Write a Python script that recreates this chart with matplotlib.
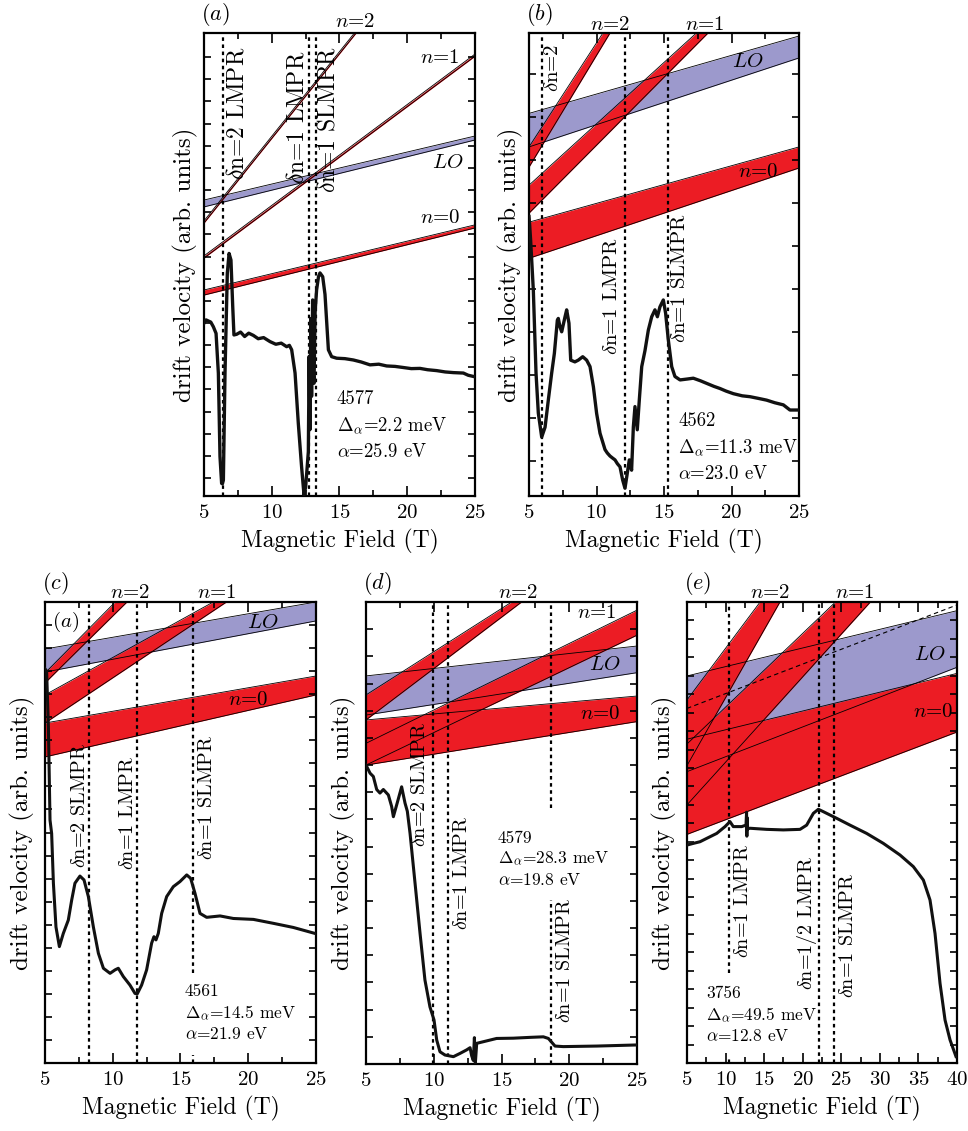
import numpy as np
import matplotlib.pyplot as plt
from matplotlib.ticker import MultipleLocator

plt.rcParams['font.family'] = ['cmr10', 'DejaVu Serif']
plt.rcParams['mathtext.fontset'] = 'cm'
plt.rcParams['axes.formatter.use_mathtext'] = True

RED = '#ec1c24'
PURPLE = '#9c99cc'

# ---- panel (a): sample 4577 ----
a_trace = [(5.0, 7.8), (5.15, 7.95), (5.32, 7.9), (5.5, 7.85), (5.69, 7.64), (5.89, 7.34),
           (6.06, 5.54), (6.18, 1.78), (6.3, 0.57), (6.36, 0.55), (6.43, 0.72), (6.55, 5.54),
           (6.72, 10.05), (6.85, 10.95), (6.99, 10.65), (7.12, 8.55), (7.21, 7.27), (7.41, 7.3),
           (7.7, 7.4), (8.0, 7.2), (8.3, 7.35), (8.64, 7.25), (9.0, 7.1), (9.4, 7.15),
           (9.87, 6.97), (10.3, 6.85), (10.7, 6.9), (11.1, 6.74), (11.3, 6.8), (11.47, 6.6),
           (11.72, 5.55), (11.96, 3.28), (12.2, 1.33), (12.38, 0.05), (12.5, 0.4), (12.58, 1.03),
           (12.7, 2.0), (12.76, 6.3), (12.82, 3.0), (12.88, 8.0), (12.94, 4.5), (13.02, 8.85),
           (13.07, 5.5), (13.12, 5.09), (13.2, 8.3), (13.31, 9.3), (13.45, 9.9), (13.56, 10.07),
           (13.76, 9.9), (13.93, 9.1), (14.18, 6.6), (14.42, 6.29), (14.79, 6.22), (15.4, 6.2),
           (16.02, 6.14), (16.6, 6.05), (17.25, 5.92), (17.9, 5.95), (18.48, 5.87), (19.1, 5.85),
           (19.71, 5.8), (20.3, 5.75), (20.94, 5.76), (21.5, 5.7), (22.17, 5.66), (22.8, 5.6),
           (23.4, 5.57), (24.14, 5.55), (24.5, 5.45), (24.93, 5.39)]
# band edges: (value at B=5, value at right edge)
a_n0 = [(9.07, 12.1), (9.3, 12.24)]
a_n1 = [(10.74, 19.85), (10.84, 19.95)]
a_n2 = [(12.32, 27.6), (12.42, 27.7)]
a_LO = [(13.05, 16.07), (13.36, 16.25)]
a_res = [6.4, 12.75, 13.3]
a_res_labels = [r'$\delta$n=2 LMPR', r'$\delta$n=1 LMPR', r'$\delta$n=1 SLMPR']
a_info = ['4577', r'$\Delta_\alpha$=2.2 meV', r'$\alpha$=25.9 eV']

# ---- panel (b): sample 4562 ----
b_trace = [(5.0, 6.5), (5.05, 6.3), (5.12, 5.95), (5.32, 4.79), (5.52, 2.86), (5.69, 1.93),
           (5.94, 1.37), (6.19, 1.6), (6.43, 2.23), (6.68, 2.86), (6.88, 3.32), (7.1, 4.09),
           (7.17, 4.13), (7.3, 3.93), (7.42, 3.82), (7.55, 4.0), (7.67, 4.17), (7.79, 4.33),
           (7.96, 4.02), (8.09, 3.16), (8.4, 3.12), (8.65, 3.16), (8.98, 3.24), (9.27, 3.16),
           (9.52, 3.01), (9.77, 2.54), (10.01, 1.92), (10.26, 1.46), (10.63, 1.08), (10.8, 1.0),
           (11.0, 0.93), (11.2, 0.88), (11.37, 0.84), (11.55, 0.75), (11.74, 0.68), (11.94, 0.37),
           (12.11, 0.18), (12.28, 0.53), (12.43, 0.84), (12.6, 0.6), (12.73, 1.61), (12.85, 2.08),
           (13.02, 1.54), (13.17, 2.23), (13.35, 3.01), (13.59, 3.38), (13.84, 3.86), (14.09, 4.17),
           (14.33, 4.33), (14.51, 4.17), (14.7, 4.4), (14.95, 4.56), (15.12, 4.25), (15.32, 3.63),
           (15.57, 3.01), (15.81, 2.78), (16.19, 2.7), (16.7, 2.72), (17.17, 2.74), (17.7, 2.68),
           (18.16, 2.62), (18.7, 2.55), (19.15, 2.5), (19.6, 2.44), (20.14, 2.38), (20.8, 2.33),
           (21.37, 2.31), (22.0, 2.27), (22.6, 2.23), (23.2, 2.17), (23.84, 2.12), (24.33, 2.0),
           (24.95, 2.0)]
b_n0 = [(5.53, 7.63), (6.37, 8.12)]
b_n1 = [(6.58, 12.9), (7.23, 12.94)]
b_n2 = [(7.65, 18.05), (8.12, 17.8)]
b_LO = [(8.12, 10.19), (8.9, 10.7)]
b_res = [5.96, 12.1, 15.3]
b_res_labels = [r'$\delta$n=2', r'$\delta$n=1 LMPR', r'$\delta$n=1 SLMPR']
b_info = ['4562', r'$\Delta_\alpha$=11.3 meV', r'$\alpha$=23.0 eV']

# ---- panel (c): sample 4561 ----
c_trace = [(5.0, 17.1), (5.12, 17.0), (5.25, 14.59), (5.37, 10.54), (5.49, 9.96), (5.62, 7.8),
           (5.81, 5.9), (6.06, 5.05), (6.35, 5.62), (6.72, 6.2), (6.97, 7.07), (7.21, 7.8),
           (7.58, 8.11), (7.88, 7.94), (8.2, 7.22), (8.57, 5.9), (8.94, 4.76), (9.31, 4.11),
           (9.8, 3.89), (10.17, 4.04), (10.41, 4.11), (10.78, 3.75), (11.27, 3.38), (11.64, 3.02),
           (11.81, 3.0), (12.13, 3.38), (12.5, 4.04), (12.87, 5.2), (13.04, 5.48), (13.19, 5.34),
           (13.36, 5.62), (13.61, 6.49), (13.98, 7.22), (14.47, 7.65), (14.96, 7.87), (15.46, 8.16),
           (15.75, 8.01), (16.07, 7.36), (16.44, 6.49), (16.93, 6.32), (17.92, 6.38), (18.9, 6.27),
           (20.38, 6.23), (21.85, 6.06), (23.33, 5.88), (24.93, 5.62)]
c_n0 = [(13.28, 15.97), (14.75, 16.79)]
c_n1 = [(14.75, 22.59), (15.97, 22.46)]
c_n2 = [(16.49, 28.1), (16.92, 28.8)]
c_LO = [(16.96, 19.18), (17.96, 20.0)]
c_res = [8.27, 11.81, 15.95]
c_gap = [None, None, (0.35, 3.9)]
c_res_labels = [r'$\delta$n=2 SLMPR', r'$\delta$n=1 LMPR', r'$\delta$n=1 SLMPR']
c_info = ['4561', r'$\Delta_\alpha$=14.5 meV', r'$\alpha$=21.9 eV']

# ---- panel (d): sample 4579 ----
d_trace = [(5.0, 11.0), (5.3, 10.7), (5.54, 10.58), (5.79, 10.1), (6.03, 9.97), (6.28, 10.1),
           (6.65, 9.9), (6.89, 9.48), (7.02, 9.1), (7.3, 9.6), (7.63, 10.2), (7.88, 9.6),
           (8.05, 9.3), (8.25, 8.49), (8.62, 6.65), (8.99, 4.8), (9.35, 3.09), (9.72, 2.1),
           (10.02, 1.62), (10.22, 0.88), (10.46, 0.45), (10.83, 0.33), (11.45, 0.27), (11.94, 0.39),
           (12.43, 0.52), (12.68, 0.6), (12.8, 0.3), (12.92, 0.13), (13.0, 0.97), (13.07, 0.03),
           (13.17, 0.76), (13.66, 0.82), (14.64, 0.94), (15.87, 0.95), (17.1, 0.98), (18.09, 1.0),
           (18.46, 0.94), (18.95, 0.66), (19.56, 0.64), (22.02, 0.66), (24.93, 0.7)]
d_n0 = [(11.0, 12.6), (12.66, 13.54)]
d_n1 = [(11.0, 15.78), (11.8, 16.7)]
d_n2 = [(12.66, 20.22), (13.58, 19.94)]
d_LO = [(12.84, 14.4), (14.28, 15.38)]
d_res = [9.92, 11.08, 18.65]
d_gap = [None, None, (6.03, 9.42)]
d_res_labels = [r'$\delta$n=2 SLMPR', r'$\delta$n=1 LMPR', r'$\delta$n=1 SLMPR']
d_info = ['4579', r'$\Delta_\alpha$=28.3 meV', r'$\alpha$=19.8 eV']

# ---- panel (e): sample 3756 ----
e_trace = [(5.0, 11.82), (5.82, 11.91), (6.69, 12.0), (7.55, 12.18), (8.85, 12.45), (9.93, 12.82),
           (10.57, 13.09), (11.0, 12.82), (12.09, 12.82), (12.65, 12.9), (12.72, 13.6),
           (12.76, 12.3), (12.8, 13.3), (12.86, 12.7), (13.17, 12.73), (15.33, 12.67),
           (17.49, 12.64), (19.65, 12.67), (20.51, 12.9), (21.38, 13.54), (22.03, 13.76),
           (22.67, 13.63), (24.4, 13.27), (26.13, 12.9), (28.29, 12.45), (30.45, 11.91),
           (32.61, 11.28), (34.34, 10.65), (35.64, 9.92), (36.5, 8.84), (37.15, 7.03),
           (37.8, 4.32), (38.45, 2.33), (39.1, 1.25), (39.87, 0.35)]
e_n0 = [(12.4, 17.95), (17.56, 21.13)]
e_n1 = [(14.0, 30.2), (17.3, 31.3)]
e_n2 = [(16.13, 41.9), (19.69, 39.3)]
e_LO = [(15.8, 21.46), (20.99, 24.53)]
e_dash = [19.23, 24.84]
e_res = [10.45, 22.16, 24.06]
e_gap = [(0.33, 4.88), None, None]
e_res_labels = [r'$\delta$n=1 LMPR', r'$\delta$n=1/2 LMPR', r'$\delta$n=1 SLMPR']
e_info = ['3756', r'$\Delta_\alpha$=49.5 meV', r'$\alpha$=12.8 eV']

W, H = 968, 1131
fig = plt.figure(figsize=(W / 100, H / 100), dpi=100)


def make_axes(x0, y0, x1, y1):
    return fig.add_axes([x0 / W, 1 - y1 / H, (x1 - x0) / W, (y1 - y0) / H])


def setup(ax, xmax, ytop, yticks, letter, ypad):
    ax.set_xlim(5, xmax)
    ax.set_ylim(0, ytop)
    ax.xaxis.set_major_locator(MultipleLocator(5))
    ax.xaxis.set_minor_locator(MultipleLocator(2.5))
    ax.set_yticks(yticks)
    ax.set_yticklabels([])
    ax.tick_params(which='both', direction='in', top=True, right=True, width=1.2)
    ax.tick_params(axis='x', which='major', length=7, labelsize=15, pad=6)
    ax.tick_params(axis='x', which='minor', length=4)
    ax.tick_params(axis='y', length=5)
    for s in ax.spines.values():
        s.set_linewidth(1.6)
    ax.set_xlabel('Magnetic Field (T)', fontsize=17, labelpad=5)
    ax.set_ylabel('drift velocity (arb. units)', fontsize=18, labelpad=ypad)
    ax.text(-0.01, 1.01, '($' + letter + '$)', transform=ax.transAxes,
            fontsize=16, ha='left', va='bottom')


def draw_bands(ax, xmax, bands):
    xr = [5, xmax]
    for (lo, hi), c in bands:
        ax.fill_between(xr, lo, hi, color=c, lw=0, zorder=1)
    for (lo, hi), c in bands:
        ax.plot(xr, lo, color='k', lw=0.6, zorder=2)
        ax.plot(xr, hi, color='k', lw=0.6, zorder=2)


def draw_trace(ax, trace, lw):
    B, v = np.array(trace).T
    ax.plot(B, v, color='#111111', lw=lw, zorder=4, solid_joinstyle='round')


def draw_res(ax, res, gaps=None):
    gaps = gaps or [None] * len(res)
    y0, y1 = ax.get_ylim()
    for b, g in zip(res, gaps):
        segs = [(y0, y1)] if g is None else [(y0, g[0]), (g[1], y1)]
        for lo, hi in segs:
            ax.vlines(b, lo, hi, color='k', ls=(0, (1.6, 1.6)), lw=1.6, zorder=3)


def draw_info(ax, x, y, info, ls, size=13):
    ax.text(x, y, '\n'.join(info), fontsize=size, ha='left', va='top',
            linespacing=ls, zorder=6)


def vlabel(ax, x, y, s, va='top', size=14.5):
    ax.text(x, y, s, rotation=90, ha='center', va=va, fontsize=size, zorder=6)


def nlabel(ax, x, y, s):
    ax.text(x, y, s, ha='center', va='center', fontsize=15, zorder=6, clip_on=False)


# (a)
ax = make_axes(204, 33, 475, 496)
setup(ax, 25, 20.9, 0.81 + np.arange(20), 'a', 1)
draw_bands(ax, 25, [(a_LO, PURPLE), (a_n0, RED), (a_n1, RED), (a_n2, RED)])
draw_res(ax, a_res)
draw_trace(ax, a_trace, 2.4)
for s, x, y in zip(a_res_labels, [7.44, 11.86, 14.22], [20.27, 20.1, 20.27]):
    vlabel(ax, x, y, s, size=17)
nlabel(ax, 16.14, 21.4, r'$n$=2')
nlabel(ax, 22.42, 19.77, r'$n$=1')
nlabel(ax, 23.0, 15.03, r'$LO$')
nlabel(ax, 22.42, 12.55, r'$n$=0')
draw_info(ax, 14.8, 4.8, a_info, 1.5, 13.5)

# (b)
ax = make_axes(529, 33, 799, 496)
setup(ax, 25, 10.77, 0.81 + np.arange(10), 'b', 1)
draw_bands(ax, 25, [(b_LO, PURPLE), (b_n0, RED), (b_n1, RED), (b_n2, RED)])
draw_res(ax, b_res)
draw_trace(ax, b_trace, 2.4)
for s, x, y in zip(b_res_labels, [6.78, 11.15, 16.19], [10.53, 6.02, 6.58]):
    vlabel(ax, x, y, s, size=15)
nlabel(ax, 11.0, 10.95, r'$n$=2')
nlabel(ax, 18.04, 10.95, r'$n$=1')
nlabel(ax, 21.2, 10.09, r'$LO$')
nlabel(ax, 21.96, 7.53, r'$n$=0')
draw_info(ax, 16.04, 1.95, b_info, 1.5, 13.5)

# (c)
ax = make_axes(45, 602, 316, 1063)
setup(ax, 25, 20, np.arange(1, 20), 'c', 4)
draw_bands(ax, 25, [(c_LO, PURPLE), (c_n0, RED), (c_n1, RED), (c_n2, RED)])
draw_res(ax, c_res, c_gap)
draw_trace(ax, c_trace, 2.2)
for s, x, y in zip(c_res_labels, [7.58, 11.13, 16.96], [8.46, 8.37, 8.8]):
    vlabel(ax, x, y, s, va='bottom')
nlabel(ax, 11.27, 20.39, r'$n$=2')
nlabel(ax, 17.69, 20.39, r'$n$=1')
nlabel(ax, 21.09, 19.09, r'$LO$')
nlabel(ax, 19.98, 15.75, r'$n$=0')
ax.text(6.48, 19.13, '($a$)', fontsize=15, ha='center', va='center', zorder=6)
draw_info(ax, 15.33, 3.45, c_info, 1.3, 12.5)

# (d)
ax = make_axes(366, 602, 637, 1064)
setup(ax, 25, 17, np.arange(1, 17), 'd', 4)
draw_bands(ax, 25, [(d_LO, PURPLE), (d_n0, RED), (d_n1, RED), (d_n2, RED)])
draw_res(ax, d_res, d_gap)
draw_trace(ax, d_trace, 2.2)
for s, x, y in zip(d_res_labels, [8.99, 12.08, 19.69], [7.98, 4.93, 1.51]):
    vlabel(ax, x, y, s, va='bottom')
nlabel(ax, 16.2, 17.33, r'$n$=2')
nlabel(ax, 22.05, 16.59, r'$n$=1')
nlabel(ax, 22.64, 14.68, r'$LO$')
nlabel(ax, 22.27, 12.88, r'$n$=0')
draw_info(ax, 14.74, 8.6, d_info, 1.3, 12.5)

# (e)
ax = make_axes(687, 602, 957, 1063)
setup(ax, 40, 25, np.arange(1, 25), 'e', 4)
draw_bands(ax, 40, [(e_LO, PURPLE), (e_n0, RED), (e_n1, RED), (e_n2, RED)])
ax.plot([5, 40], e_dash, color='k', lw=0.8, ls=(0, (4, 3)), zorder=2)
draw_res(ax, e_res, e_gap)
draw_trace(ax, e_trace, 2.2)
for s, x, y in zip(e_res_labels, [12.26, 20.56, 25.87], [5.69, 3.96, 3.52]):
    vlabel(ax, x, y, s, va='bottom')
nlabel(ax, 15.76, 25.49, r'$n$=2')
nlabel(ax, 26.78, 25.49, r'$n$=1')
nlabel(ax, 36.5, 22.13, r'$LO$')
nlabel(ax, 36.89, 19.03, r'$n$=0')
draw_info(ax, 7.5, 4.2, e_info, 1.3, 12.5)

fig.savefig('out.png', dpi=100)
